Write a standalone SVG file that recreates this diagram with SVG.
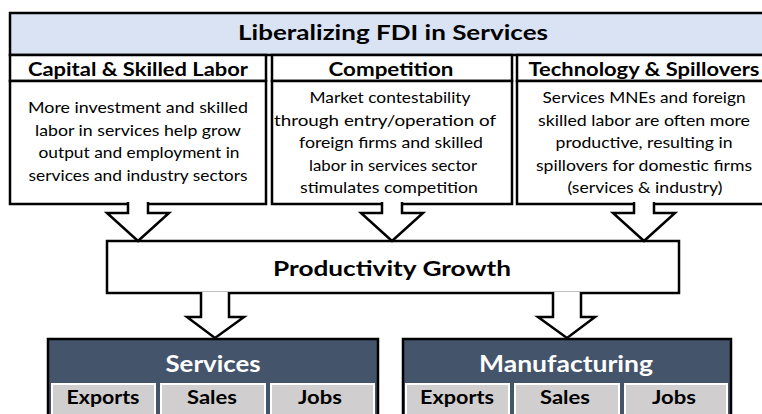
<svg xmlns="http://www.w3.org/2000/svg" width="762" height="414" viewBox="0 0 762 414">
  <style>
    .box { fill: #ffffff; stroke: #000000; stroke-width: 2.5; }
    .bar { fill: #dae3f3; stroke: #000000; stroke-width: 2.5; }
    .dark { fill: #44546a; stroke: #000000; stroke-width: 2.5; }
    .cell { fill: #d0cece; stroke: #ffffff; stroke-width: 2; }
    .arrow { fill: #ffffff; stroke: #000000; stroke-width: 2.5; stroke-linejoin: miter; }
    text { font-family: Lato, "Open Sans", "Liberation Sans", sans-serif; text-anchor: middle; fill: #000000; }
    .title { font-size: 21px; font-weight: bold; }
    .head { font-size: 18.5px; font-weight: bold; }
    .body { font-size: 16px; }
    .big { font-size: 21px; font-weight: bold; }
    .sector { font-size: 22px; font-weight: bold; fill: #ffffff; }
    .tag { font-size: 18px; font-weight: bold; }
  </style>

  <!-- Top banner -->
  <g id="banner">
    <rect class="bar" x="10" y="13" width="770" height="42"/>
    <text class="title" x="393" y="40" textLength="310" lengthAdjust="spacingAndGlyphs">Liberalizing FDI in Services</text>
  </g>

  <!-- Channel columns -->
  <g id="capital">
    <rect class="box" x="10" y="55" width="256" height="26"/>
    <rect class="box" x="10" y="81" width="256" height="123"/>
    <text class="head" x="138" y="76" textLength="220" lengthAdjust="spacingAndGlyphs">Capital &amp; Skilled Labor</text>
    <text class="body" x="138" y="113" textLength="220" lengthAdjust="spacingAndGlyphs">More investment and skilled</text>
    <text class="body" x="138" y="136" textLength="206" lengthAdjust="spacingAndGlyphs">labor in services help grow</text>
    <text class="body" x="139" y="158" textLength="201" lengthAdjust="spacingAndGlyphs">output and employment in</text>
    <text class="body" x="138" y="181" textLength="219" lengthAdjust="spacingAndGlyphs">services and industry sectors</text>
  </g>

  <g id="competition">
    <rect class="box" x="272" y="55" width="240" height="26"/>
    <rect class="box" x="272" y="81" width="240" height="123"/>
    <text class="head" x="391" y="76" textLength="125" lengthAdjust="spacingAndGlyphs">Competition</text>
    <text class="body" x="390" y="103" textLength="161" lengthAdjust="spacingAndGlyphs">Market contestability</text>
    <text class="body" x="385" y="126" textLength="222" lengthAdjust="spacingAndGlyphs">through entry/operation of</text>
    <text class="body" x="391" y="148" textLength="184" lengthAdjust="spacingAndGlyphs">foreign firms and skilled</text>
    <text class="body" x="393" y="171" textLength="168" lengthAdjust="spacingAndGlyphs">labor in services sector</text>
    <text class="body" x="389" y="193" textLength="178" lengthAdjust="spacingAndGlyphs">stimulates competition</text>
  </g>

  <g id="technology">
    <rect class="box" x="517" y="55" width="263" height="26"/>
    <rect class="box" x="517" y="81" width="263" height="123"/>
    <text class="head" x="644" y="76" textLength="231" lengthAdjust="spacingAndGlyphs">Technology &amp; Spillovers</text>
    <text class="body" x="644" y="103" textLength="203" lengthAdjust="spacingAndGlyphs">Services MNEs and foreign</text>
    <text class="body" x="644" y="126" textLength="212" lengthAdjust="spacingAndGlyphs">skilled labor are often more</text>
    <text class="body" x="644" y="148" textLength="177" lengthAdjust="spacingAndGlyphs">productive, resulting in</text>
    <text class="body" x="644" y="171" textLength="216" lengthAdjust="spacingAndGlyphs">spillovers for domestic firms</text>
    <text class="body" x="645" y="193" textLength="155" lengthAdjust="spacingAndGlyphs">(services &amp; industry)</text>
  </g>

  <!-- Central outcome -->
  <g id="productivity">
    <rect class="box" x="107" y="241" width="572" height="52"/>
    <text class="big" x="392" y="276" textLength="238" lengthAdjust="spacingAndGlyphs">Productivity Growth</text>
  </g>

  <!-- Sector outcomes -->
  <g id="services">
    <rect class="dark" x="48" y="339" width="330" height="90"/>
    <text class="sector" x="213" y="372" textLength="95" lengthAdjust="spacingAndGlyphs">Services</text>
    <rect class="cell" x="52" y="384" width="103" height="40"/>
    <rect class="cell" x="161" y="384" width="104" height="40"/>
    <rect class="cell" x="271" y="384" width="103" height="40"/>
    <text class="tag" x="103" y="404" textLength="73" lengthAdjust="spacingAndGlyphs">Exports</text>
    <text class="tag" x="212" y="404" textLength="50" lengthAdjust="spacingAndGlyphs">Sales</text>
    <text class="tag" x="320" y="404" textLength="44" lengthAdjust="spacingAndGlyphs">Jobs</text>
  </g>

  <g id="manufacturing">
    <rect class="dark" x="403" y="339" width="328" height="90"/>
    <text class="sector" x="566" y="372" textLength="174" lengthAdjust="spacingAndGlyphs">Manufacturing</text>
    <rect class="cell" x="406" y="384" width="103" height="40"/>
    <rect class="cell" x="515" y="384" width="104" height="40"/>
    <rect class="cell" x="625" y="384" width="102" height="40"/>
    <text class="tag" x="457" y="404" textLength="74" lengthAdjust="spacingAndGlyphs">Exports</text>
    <text class="tag" x="565" y="404" textLength="50" lengthAdjust="spacingAndGlyphs">Sales</text>
    <text class="tag" x="674" y="404" textLength="44" lengthAdjust="spacingAndGlyphs">Jobs</text>
  </g>

  <!-- Block arrows -->
  <g id="connectors">
    <path class="arrow" d="M128,202 V213 H107 L138,241 L169,213 H148 V202"/>
    <path class="arrow" d="M382,202 V213 H361 L392,241 L423,213 H402 V202"/>
    <path class="arrow" d="M634,202 V213 H613 L644,241 L675,213 H654 V202"/>
    <path class="arrow" d="M201,292 V317 H187 L215,338 L244,317 H229 V292"/>
    <path class="arrow" d="M553,292 V317 H538 L567,338 L595,317 H581 V292"/>
  </g>
</svg>
